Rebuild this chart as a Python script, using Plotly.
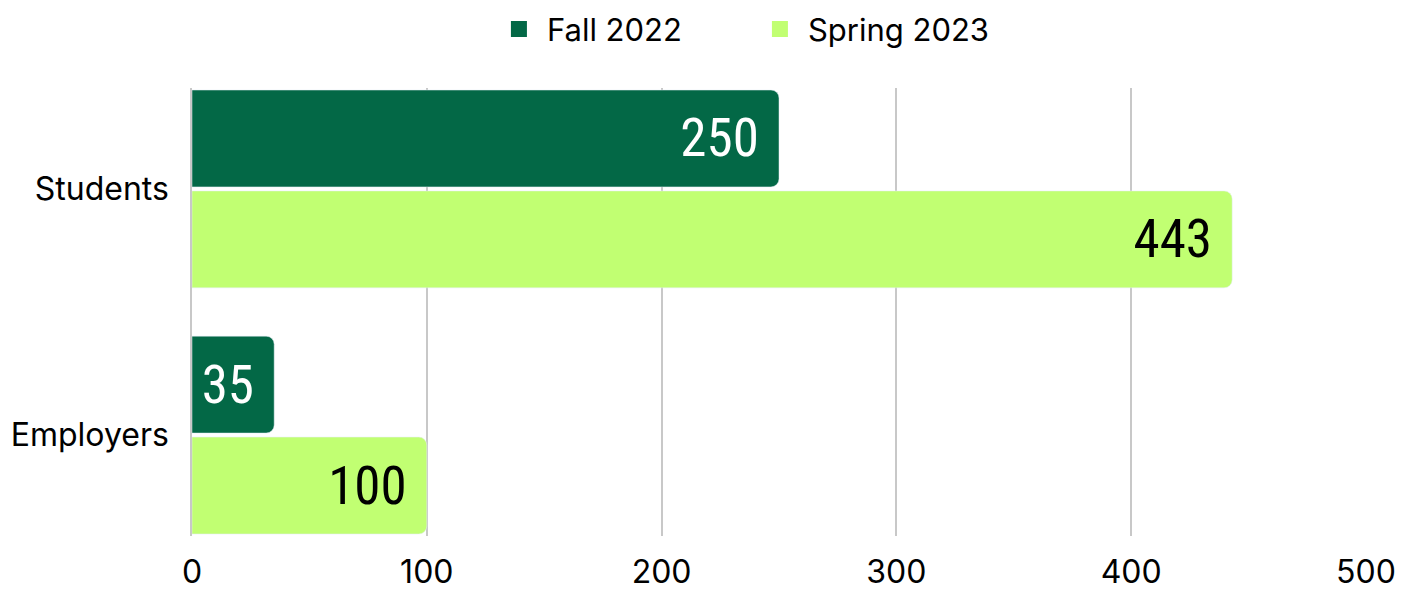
import plotly.graph_objects as go

categories = ["Students", "Employers"]
fall_2022 = [250, 35]
spring_2023 = [443, 100]
x_ticks = [0, 100, 200, 300, 400, 500]
series_names = ["Fall 2022", "Spring 2023"]
series_colors = ["#036846", "#C1FF72"]
text_colors = ["white", "black"]

label_font = "Roboto Condensed, DejaVu Sans Condensed, Liberation Sans Narrow, sans-serif"
tick_font = "Inter, Noto Sans, sans-serif"

fig = go.Figure()
for name, vals, col, tcol in zip(series_names, [fall_2022, spring_2023], series_colors, text_colors):
    fig.add_trace(go.Bar(
        name=name, y=categories, x=vals, orientation="h", showlegend=False,
        marker=dict(color=col, cornerradius=8),
        text=[f"{v}\u00a0" for v in vals],
        textposition="inside", insidetextanchor="end", constraintext="none",
        textangle=0,
        textfont=dict(family=label_font, size=53, color=tcol),
    ))
for name, col in zip(series_names, series_colors):
    fig.add_trace(go.Scatter(
        name=name, x=[None], y=[None], mode="markers",
        marker=dict(symbol="square", size=24, color=col),
        showlegend=True,
    ))

fig.update_layout(
    width=1401, height=582,
    margin=dict(l=184, r=43, t=80, b=54, autoexpand=False),
    paper_bgcolor="white", plot_bgcolor="white",
    barmode="group", bargap=0.18, bargroupgap=0.04,
    font=dict(family=tick_font, size=32, color="black"),
    showlegend=True,
    legend=dict(orientation="h", xref="container", x=0.3447, xanchor="left",
                yref="paper", y=1.131, yanchor="middle",
                font=dict(size=31), itemwidth=46,
                traceorder="normal", entrywidth=200),
)
fig.update_xaxes(range=[0, 500], tickvals=x_ticks, showgrid=True, gridcolor="#C8C8C8",
                 gridwidth=1.5, zeroline=False, showline=False, ticks="", ticklen=0,
                 ticklabelstandoff=14, automargin=False, fixedrange=True)
fig.update_yaxes(range=[1.41, -0.41], showline=True, linecolor="#C8C8C8", linewidth=1.5,
                 ticks="", ticklabelstandoff=15, showgrid=False, automargin=False)

fig.write_html("out.html")
